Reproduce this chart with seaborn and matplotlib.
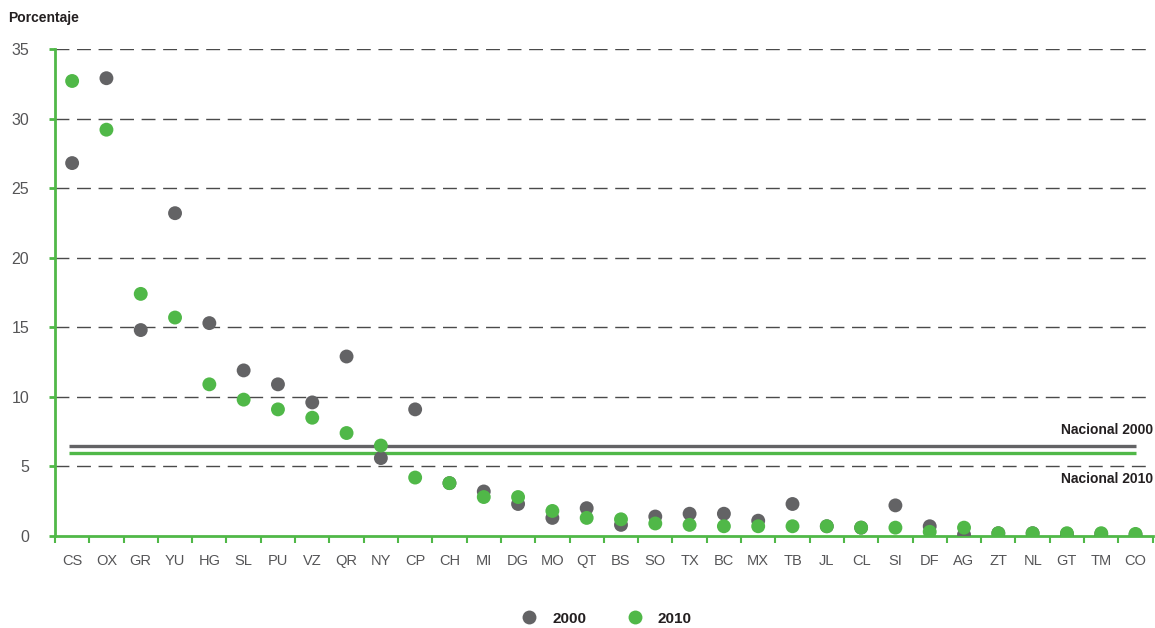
import matplotlib
matplotlib.use("Agg")
import matplotlib.pyplot as plt
import seaborn as sns
import pandas as pd
from matplotlib.ticker import FixedLocator, NullFormatter

estados = ["CS", "OX", "GR", "YU", "HG", "SL", "PU", "VZ", "QR", "NY", "CP", "CH",
           "MI", "DG", "MO", "QT", "BS", "SO", "TX", "BC", "MX", "TB", "JL", "CL",
           "SI", "DF", "AG", "ZT", "NL", "GT", "TM", "CO"]
valores_2000 = [26.8, 32.9, 14.8, 23.2, 15.3, 11.9, 10.9, 9.6, 12.9, 5.6, 9.1, 3.8,
                3.2, 2.3, 1.3, 2.0, 0.8, 1.4, 1.6, 1.6, 1.1, 2.3, 0.7, 0.6,
                2.2, 0.7, 0.1, 0.2, 0.2, 0.15, 0.15, 0.1]
valores_2010 = [32.7, 29.2, 17.4, 15.7, 10.9, 9.8, 9.1, 8.5, 7.4, 6.5, 4.2, 3.8,
                2.8, 2.8, 1.8, 1.3, 1.2, 0.9, 0.8, 0.7, 0.7, 0.7, 0.7, 0.6,
                0.6, 0.3, 0.6, 0.2, 0.2, 0.2, 0.2, 0.15]
nacional_2000 = 6.5
nacional_2010 = 6.0
y_ticks = [0, 5, 10, 15, 20, 25, 30, 35]

GRAY = "#636365"
GREEN = "#50b848"
TEXT = "#231f20"

df = pd.DataFrame({
    "estado": estados * 2,
    "valor": valores_2000 + valores_2010,
    "año": ["2000"] * len(estados) + ["2010"] * len(estados),
})

sns.set_theme(style="white")
plt.rcParams["font.family"] = ["Liberation Sans", "DejaVu Sans"]

fig = plt.figure(figsize=(11.55, 6.28), dpi=100)
ax = fig.add_axes([0.0476, 0.1465, 0.9504, 0.7755])

n = len(estados)
ax.set_xlim(-0.5, n - 0.5)
ax.set_ylim(0, 35)

# grid
for yv in y_ticks[1:]:
    ax.axhline(yv, color="#4a4a4a", lw=1.0, ls=(0, (10, 5.5)), zorder=0)

# national lines
ax.hlines([nacional_2000], -0.1, n - 1, color=GRAY, lw=2.4, zorder=1)
ax.hlines([nacional_2010], -0.1, n - 1, color=GREEN, lw=2.4, zorder=1)

sns.scatterplot(data=df, x="estado", y="valor", hue="año",
                palette={"2000": GRAY, "2010": GREEN}, s=100,
                edgecolor="none", linewidth=0, ax=ax, zorder=3)

ax.text(n - 0.5, nacional_2000 + 0.6, "Nacional 2000", ha="right", va="bottom",
        fontsize=10, fontweight="bold", color=TEXT)
ax.text(n - 0.5, nacional_2010 - 1.4, "Nacional 2010", ha="right", va="top",
        fontsize=10, fontweight="bold", color=TEXT)

# spines
for s in ["top", "right"]:
    ax.spines[s].set_visible(False)
for s in ["left", "bottom"]:
    ax.spines[s].set_color(GREEN)
    ax.spines[s].set_linewidth(2.0)

ax.set_yticks(y_ticks)
ax.set_yticklabels([str(v) for v in y_ticks])
ax.tick_params(axis="y", which="major", length=4.5, width=2, color=GREEN,
               pad=14, labelsize=11.5, labelcolor="#555557", left=True)

ax.set_xticks(range(n))
ax.set_xticklabels(estados)
ax.tick_params(axis="x", which="major", length=0, pad=13, labelsize=10.5,
               labelcolor="#555557")
ax.xaxis.set_minor_locator(FixedLocator([i - 0.5 for i in range(n + 1)]))
ax.xaxis.set_minor_formatter(NullFormatter())
ax.tick_params(axis="x", which="minor", length=5, width=1.5, color=GREEN,
               bottom=True, direction="out")

ax.set_xlabel("")
ax.set_ylabel("")

fig.text(0.007, 0.972, "Porcentaje", ha="left", va="center", fontsize=10,
         fontweight="bold", color=TEXT)

handles, labels = ax.get_legend_handles_labels()
ax.get_legend().remove()
leg = fig.legend(handles, labels, loc="center", bbox_to_anchor=(0.522, 0.015),
                 ncol=2, frameon=False, fontsize=11, handletextpad=0.5,
                 columnspacing=2.2, markerscale=1.0)
for t in leg.get_texts():
    t.set_fontweight("bold")
    t.set_color(TEXT)

fig.savefig("out.png", dpi=100)
